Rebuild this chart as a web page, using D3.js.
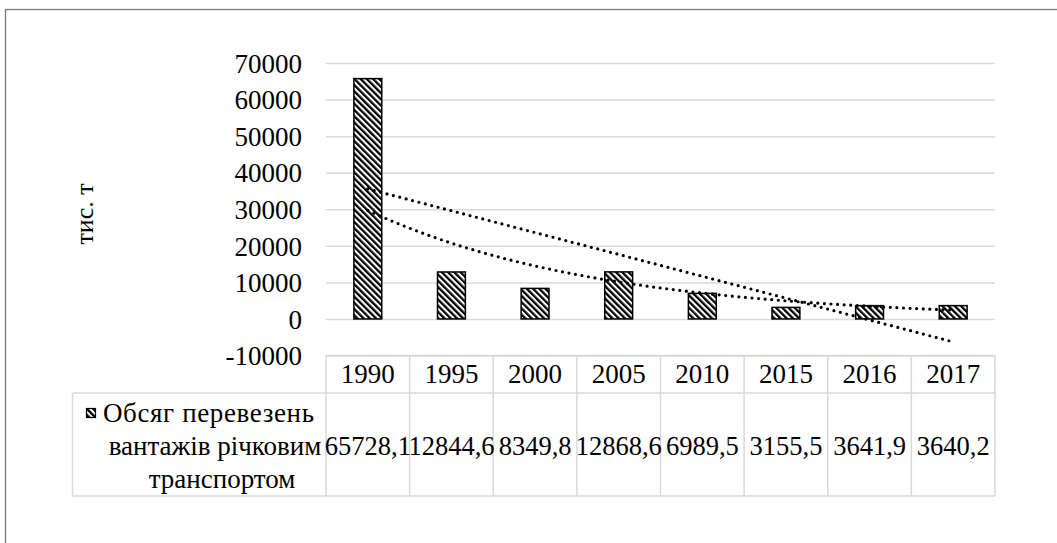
<!DOCTYPE html>
<html>
<head>
	<meta charset="UTF-8" />
	<title>river freight</title>
	<script src="https://cdn.jsdelivr.net/npm/d3@7/dist/d3.min.js"></script>
</head>
<body style="margin:0; background:#fff">
	<svg id="chart" width="1057" height="543"></svg>

	<script type="text/javascript">
	// data
	const years = ["1990", "1995", "2000", "2005", "2010", "2015", "2016", "2017"]
	const values = [65728.1, 12844.6, 8349.8, 12868.6, 6989.5, 3155.5, 3641.9, 3640.2]
	const valueLabels = ["65728,1", "12844,6", "8349,8", "12868,6", "6989,5", "3155,5", "3641,9", "3640,2"]
	const yTicks = [-10000, 0, 10000, 20000, 30000, 40000, 50000, 60000, 70000]
	const seriesName = ["Обсяг перевезень", "вантажів річковим", "транспортом"]
	const yTitle = "тис. т"

	const gridGray = "#d9d9d9"
	const font = "Liberation Serif"
	const fontSize = 27

	const svg = d3.select("#chart")

	// outer chart frame (runs off the right / bottom edge)
	svg.append("rect")
		.attr("x", 5.5).attr("y", 9.5)
		.attr("width", 1100).attr("height", 600)
		.attr("fill", "none")
		.attr("stroke", "#7a7a7a")
		.attr("stroke-width", 1.3)

	// stripe pattern
	const defs = svg.append("defs")
	const pat = defs.append("pattern")
		.attr("id", "stripes")
		.attr("patternUnits", "userSpaceOnUse")
		.attr("width", 4.4).attr("height", 4.4)
		.attr("patternTransform", "rotate(-45)")
	pat.append("rect").attr("width", 4.4).attr("height", 4.4).attr("fill", "#fff")
	pat.append("rect").attr("width", 2.3).attr("height", 4.4).attr("fill", "#000")

	// scales
	const left = 326, right = 995
	const xCol = d3.scaleBand().domain(years).range([left, right]).padding(0)
	const xBar = d3.scaleBand().domain(years).range([left, right])
		.paddingInner(2 / 3).paddingOuter(1 / 3)
	const yScale = d3.scaleLinear().domain([-10000, 70000]).range([355.5, 63])

	// gridlines + tick labels
	const yAxis = d3.axisLeft(yScale)
		.tickValues(yTicks)
		.tickSize(-(right - left))
		.tickPadding(24)
		.tickFormat(d => String(d))
	const yAxisG = svg.append("g")
		.attr("transform", `translate(${left},0)`)
		.call(yAxis)
	yAxisG.select(".domain").remove()
	yAxisG.selectAll(".tick line").attr("stroke", gridGray).attr("stroke-width", 1.5)
	yAxisG.selectAll(".tick text")
		.attr("fill", "#000")
		.attr("dy", "0.34em")
		.attr("font-family", font)
		.attr("font-size", fontSize)

	// axis title
	svg.append("text")
		.attr("transform", "translate(93,214) rotate(-90)")
		.attr("text-anchor", "middle")
		.attr("font-family", font)
		.attr("font-size", 26)
		.text(yTitle)

	// bars
	svg.selectAll(".bar")
		.data(values)
		.join("rect")
		.attr("class", "bar")
		.attr("x", (d, i) => xBar(years[i]))
		.attr("width", xBar.bandwidth())
		.attr("y", d => yScale(d))
		.attr("height", d => yScale(0) - yScale(d))
		.attr("fill", "url(#stripes)")
		.attr("stroke", "#000")
		.attr("stroke-width", 1.5)

	// trendlines (least squares on x = 1..n, like the spreadsheet does)
	const xs = values.map((d, i) => i + 1)
	function fit(ys) {
		const mx = d3.mean(xs), my = d3.mean(ys)
		const b = d3.sum(xs, (x, i) => (x - mx) * (ys[i] - my)) / d3.sum(xs, x => (x - mx) * (x - mx))
		return { a: my - b * mx, b: b }
	}
	const lin = fit(values)
	const ex = fit(values.map(v => Math.log(v)))
	const xPos = d3.scaleLinear().domain([1, years.length])
		.range([xBar(years[0]) + xBar.bandwidth() / 2, xBar(years[years.length - 1]) + xBar.bandwidth() / 2])

	const line = d3.line().x(d => xPos(d[0])).y(d => yScale(d[1]))
	const steps = d3.range(1, years.length + 0.001, 0.1)

	svg.append("path")
		.attr("d", line(steps.map(t => [t, Math.exp(ex.a + ex.b * t)])))
		.attr("fill", "none")
		.attr("stroke", "#000")
		.attr("stroke-width", 3.2)
		.attr("stroke-linecap", "round")
		.attr("stroke-dasharray", "0,6.6")

	svg.append("path")
		.attr("d", line([1, years.length].map(t => [t, lin.a + lin.b * t])))
		.attr("fill", "none")
		.attr("stroke", "#000")
		.attr("stroke-width", 3.2)
		.attr("stroke-linecap", "round")
		.attr("stroke-dasharray", "0,6.6")

	// data table
	const headTop = 355.5, headBot = 393, rowBot = 496, tableLeft = 72.5
	const tbl = svg.append("g").attr("stroke", gridGray).attr("stroke-width", 1.5)
	tbl.append("line").attr("x1", left).attr("x2", right).attr("y1", headTop).attr("y2", headTop)
	tbl.append("line").attr("x1", tableLeft).attr("x2", right).attr("y1", headBot).attr("y2", headBot)
	tbl.append("line").attr("x1", tableLeft).attr("x2", right).attr("y1", rowBot).attr("y2", rowBot)
	tbl.append("line").attr("x1", tableLeft).attr("x2", tableLeft).attr("y1", headBot).attr("y2", rowBot)
	tbl.selectAll(".vdiv")
		.data(years.concat(["end"]))
		.join("line")
		.attr("class", "vdiv")
		.attr("x1", (d, i) => left + i * xCol.step())
		.attr("x2", (d, i) => left + i * xCol.step())
		.attr("y1", headTop).attr("y2", rowBot)

	svg.selectAll(".yearLab")
		.data(years)
		.join("text")
		.attr("class", "yearLab")
		.attr("x", d => xCol(d) + xCol.bandwidth() / 2)
		.attr("y", (headTop + headBot) / 2)
		.attr("dy", "0.34em")
		.attr("text-anchor", "middle")
		.attr("font-family", font)
		.attr("font-size", fontSize)
		.text(d => d)

	svg.selectAll(".valLab")
		.data(valueLabels)
		.join("text")
		.attr("class", "valLab")
		.attr("x", (d, i) => xCol(years[i]) + xCol.bandwidth() / 2)
		.attr("y", 446)
		.attr("dy", "0.34em")
		.attr("text-anchor", "middle")
		.attr("font-family", font)
		.attr("font-size", 26.5)
		.text(d => d)

	// legend key + series name in the first cell
	svg.append("rect")
		.attr("x", 86.5).attr("y", 408.5)
		.attr("width", 9).attr("height", 9)
		.attr("fill", "url(#stripes)")
		.attr("stroke", "#000")
		.attr("stroke-width", 1.2)

	svg.append("text")
		.attr("x", 103).attr("y", 413).attr("dy", "0.34em")
		.attr("font-family", font)
		.attr("font-size", fontSize)
		.attr("textLength", 211)
		.text(seriesName[0])
	svg.selectAll(".nameLine")
		.data(seriesName.slice(1))
		.join("text")
		.attr("class", "nameLine")
		.attr("x", (d, i) => i === 0 ? 215 : 222)
		.attr("y", (d, i) => 446 + i * 32.5)
		.attr("dy", "0.34em")
		.attr("text-anchor", "middle")
		.attr("font-family", font)
		.attr("font-size", fontSize)
		.text(d => d)
	</script>
</body>
</html>
